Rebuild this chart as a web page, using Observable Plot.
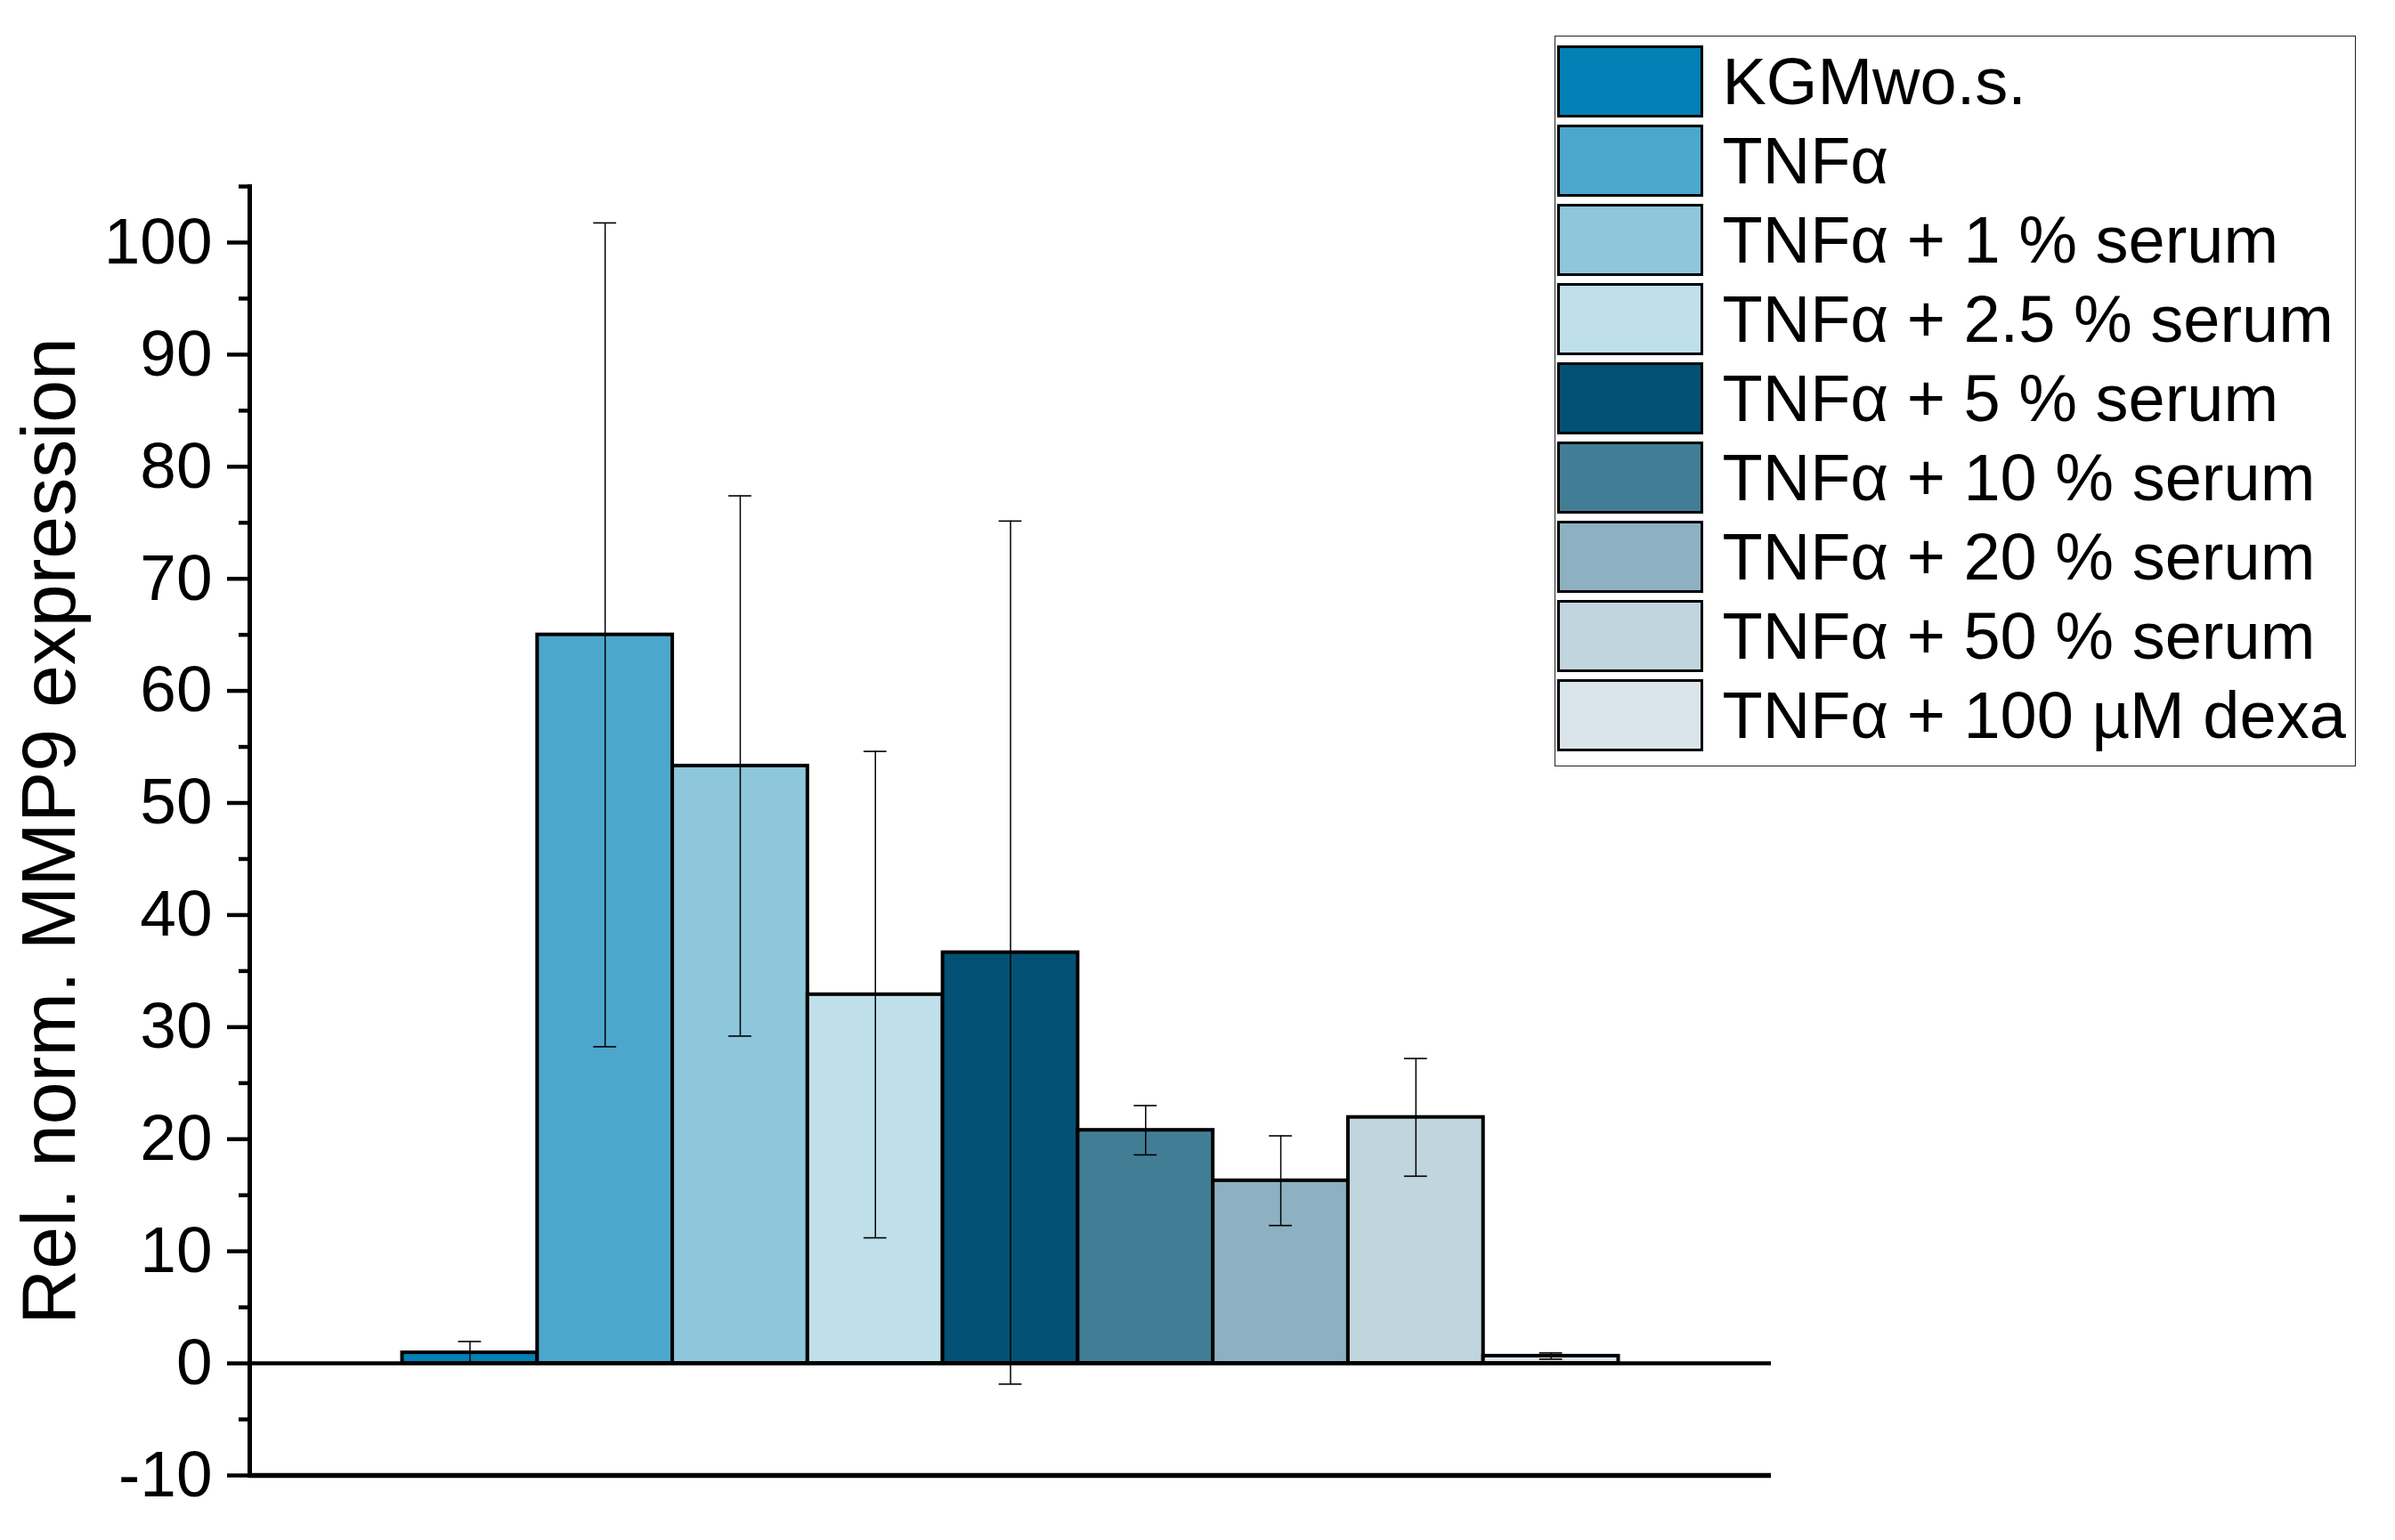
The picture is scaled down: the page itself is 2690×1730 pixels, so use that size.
<!DOCTYPE html>
<html>
<head>
<meta charset="utf-8">
<script src="https://cdn.jsdelivr.net/npm/d3@7"></script>
<script src="https://cdn.jsdelivr.net/npm/@observablehq/plot@0.6"></script>
<style>
  body { margin: 0; background: #fff; }
  #wrap { position: relative; width: 2690px; height: 1730px; font-family: "Liberation Sans", Arial, sans-serif; }
  #chart { position: absolute; left: 0; top: 0; }
  #legend { position: absolute; left: 1746px; top: 40px; width: 900px; height: 821px; box-sizing: border-box; border: 1.5px solid #222; background: #fff; }
  .row { position: absolute; left: 1.5px; height: 81px; display: flex; align-items: center; }
  .sw { width: 164px; height: 81px; box-sizing: border-box; border: 3.5px solid #000; flex: none; }
  .lab { margin-left: 22px; font-size: 74px; line-height: 86px; color: #000; white-space: nowrap; }
</style>
</head>
<body>
<div id="wrap">
  <div id="chart"></div>
  <div id="legend"></div>
</div>
<script>
// ---- data ----
const conditions = [
  "KGMwo.s.",
  "TNFα",
  "TNFα + 1 % serum",
  "TNFα + 2.5 % serum",
  "TNFα + 5 % serum",
  "TNFα + 10 % serum",
  "TNFα + 20 % serum",
  "TNFα + 50 % serum",
  "TNFα + 100 µM dexa"
];
const means = [0.95, 65.0, 53.3, 32.9, 36.65, 20.8, 16.3, 21.95, 0.65];
const errors = [1.0, 36.75, 24.1, 21.7, 38.5, 2.2, 4.0, 5.25, 0.28];
const colors = ["#0380B5", "#4DA7CC", "#8EC6DC", "#BFE0EB", "#035275", "#417E96", "#8DB1C1", "#C0D5DE", "#DAE5EB"];
const yTicks = [-10, 0, 10, 20, 30, 40, 50, 60, 70, 80, 90, 100];
const yMinorTicks = [-5, 5, 15, 25, 35, 45, 55, 65, 75, 85, 95, 105];
const yLabel = "Rel. norm. MMP9 expression";

const data = conditions.map((c, i) => ({
  condition: c,
  mean: means[i],
  lo: means[i] - errors[i],
  hi: means[i] + errors[i]
}));

const chart = Plot.plot({
  width: 2690,
  height: 1730,
  marginLeft: 280,
  marginRight: 701,
  marginTop: 209,
  marginBottom: 73,
  style: { fontFamily: '"Liberation Sans", Arial, sans-serif', color: "black", background: "white" },
  x: { domain: conditions, paddingInner: 0, paddingOuter: 1.13, axis: null, round: false },
  y: { domain: [-10, 105] },
  color: { domain: conditions, range: colors },
  marks: [
    Plot.barY(data, { x: "condition", y: "mean", fill: "condition", stroke: "black", strokeWidth: 4 }),
    Plot.ruleX(data, { x: "condition", y1: "lo", y2: "hi", stroke: "black", strokeWidth: 1.5 }),
    Plot.tickY(data, { x: "condition", y: "hi", inset: 63, stroke: "black", strokeWidth: 1.6 }),
    Plot.tickY(data, { x: "condition", y: "lo", inset: 63, stroke: "black", strokeWidth: 1.6 }),
    Plot.ruleY([0], { stroke: "black", strokeWidth: 4.5 }),
    Plot.ruleY([-10], { stroke: "black", strokeWidth: 5.3 }),
    Plot.frame({ anchor: "left", stroke: "black", strokeWidth: 5 }),
    Plot.axisY(yTicks, { tickSize: 25, tickPadding: 17, fontSize: 73, strokeWidth: 4.5, tickFormat: d => String(d), label: null }),
    Plot.axisY(yMinorTicks, { tickSize: 12, strokeWidth: 4.5, tickFormat: () => "", label: null }),
    Plot.text([yLabel], { text: d => d, frameAnchor: "left", textAnchor: "middle", lineAnchor: "middle", rotate: -90, dx: -224, fontSize: 86, fill: "black" })
  ]
});
document.getElementById("chart").appendChild(chart);

// legend built from the same arrays
const legend = document.getElementById("legend");
conditions.forEach((c, i) => {
  const row = document.createElement("div");
  row.className = "row";
  row.style.top = (10.2 + i * 89) + "px";
  const sw = document.createElement("div");
  sw.className = "sw";
  sw.style.background = colors[i];
  const lab = document.createElement("span");
  lab.className = "lab";
  lab.textContent = c;
  row.appendChild(sw);
  row.appendChild(lab);
  legend.appendChild(row);
});
</script>
</body>
</html>
